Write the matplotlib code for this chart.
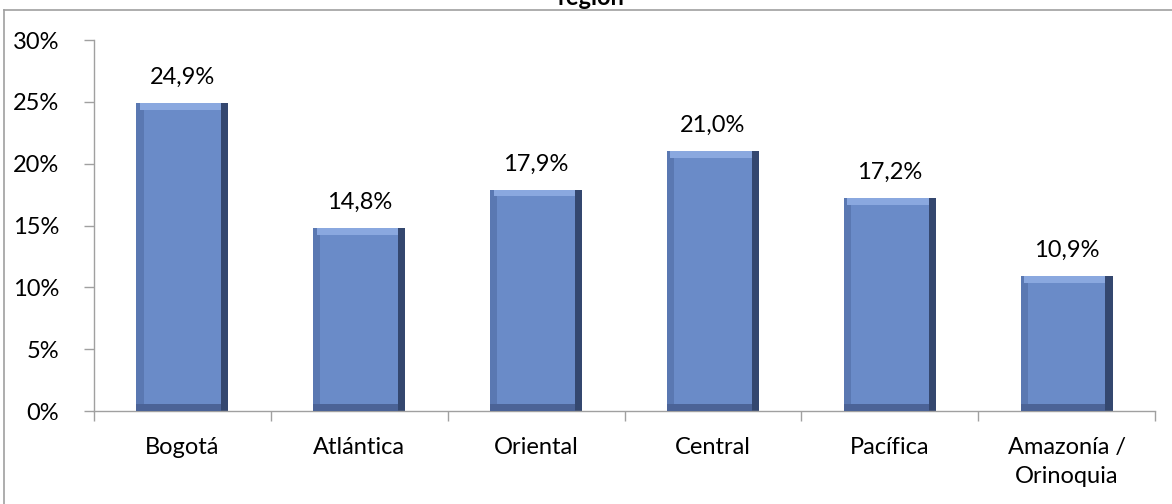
import matplotlib
matplotlib.use("Agg")
import matplotlib.pyplot as plt
from matplotlib.ticker import FuncFormatter, FixedLocator
from matplotlib.lines import Line2D
import numpy as np

categories = ["Bogotá", "Atlántica", "Oriental", "Central", "Pacífica", "Amazonía /\nOrinoquia"]
values = [24.9, 14.8, 17.9, 21.0, 17.2, 10.9]
value_labels = ["24,9%", "14,8%", "17,9%", "21,0%", "17,2%", "10,9%"]
yticks = [0, 5, 10, 15, 20, 25, 30]
title = "región"

plt.rcParams['font.family'] = ['Lato', 'DejaVu Sans']

fig = plt.figure(figsize=(11.72, 5.04), dpi=100)
ax = fig.add_axes([0.0802, 0.1845, 0.9053, 0.7361])

x = np.arange(len(categories))
vals = np.array(values)
w = 0.52
ix = 0.04    # bevel inset (x, data units)
iy = 0.55    # bevel inset (y, data units)
left = x - w / 2

# right dark bevel (full bar)
ax.bar(left, vals, width=w, align='edge', color='#34476F', zorder=2)
# bottom bevel
ax.bar(left, vals, width=w - ix, align='edge', color='#4B6397', zorder=3)
# left bevel
ax.bar(left, vals - iy, bottom=iy, width=w - ix, align='edge', color='#5A78B2', zorder=4)
# top highlight
ax.bar(left + ix * 0.5, iy, bottom=vals - iy, width=w - 1.5 * ix, align='edge', color='#8AA8DF', zorder=5)
# main face
ax.bar(left + ix, vals - 2 * iy, bottom=iy, width=w - 2 * ix, align='edge', color='#6A8BC8', zorder=6)

for xi, v, lab in zip(x, vals, value_labels):
    ax.annotate(lab, (xi, v), xytext=(0, 11), textcoords='offset points',
                ha='center', va='bottom', fontsize=17, color='black')

ax.set_xlim(-0.5, len(categories) - 0.5)
ax.set_ylim(0, 30)
ax.yaxis.set_major_locator(FixedLocator(yticks))
ax.yaxis.set_major_formatter(FuncFormatter(lambda v, p: f"{int(v)}%"))
ax.set_xticks(x)
ax.set_xticklabels(categories, fontsize=17, linespacing=1.45)
ax.xaxis.set_minor_locator(FixedLocator(np.arange(-0.5, len(categories), 1.0)))
ax.tick_params(axis='x', which='major', length=0, pad=19)
ax.tick_params(axis='x', which='minor', length=7, color='#A0A0A0', width=1)
ax.tick_params(axis='y', length=7, color='#A0A0A0', width=1, labelsize=17, pad=18)
for lab in ax.get_xticklabels():
    lab.set_verticalalignment('top')

for s in ['top', 'right']:
    ax.spines[s].set_visible(False)
for s in ['left', 'bottom']:
    ax.spines[s].set_color('#A0A0A0')
    ax.spines[s].set_linewidth(1)

# chart border (top & left)
fig.add_artist(Line2D([4 / 1172, 1.0], [1 - 10 / 504, 1 - 10 / 504], color='#A0A0A0', lw=1.2,
                      transform=fig.transFigure))
fig.add_artist(Line2D([4 / 1172, 4 / 1172], [0, 1 - 10 / 504], color='#A0A0A0', lw=1.2,
                      transform=fig.transFigure))

fig.text(0.504, 1 - 5 / 504, title, ha='center', va='baseline', fontsize=17, fontweight='bold')

fig.savefig("out.png", dpi=100, facecolor='white')
